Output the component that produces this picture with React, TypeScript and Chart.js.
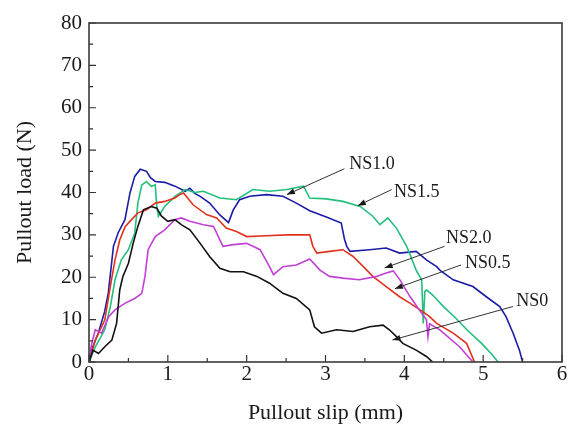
import React, { useEffect, useRef } from "react";
import { Chart, registerables } from "chart.js";

Chart.register(...registerables);

// ---------- data (slip in mm, load in N) ----------
const ns0Slip = [0, 0.01, 0.05, 0.12, 0.2, 0.29, 0.35, 0.39, 0.43, 0.5, 0.56, 0.62, 0.69, 0.79, 0.86, 0.92, 1.0, 1.09, 1.17, 1.28, 1.41, 1.53, 1.66, 1.79, 1.96, 2.13, 2.29, 2.46, 2.63, 2.8, 2.86, 2.95, 3.14, 3.35, 3.56, 3.73, 3.81, 3.9, 3.98, 4.15, 4.28, 4.36];
const ns0Load = [0, 0.5, 2.8, 2.0, 3.6, 5.2, 9.1, 17, 20.2, 23.3, 28, 32, 35.9, 36.7, 36.3, 34.4, 33.2, 33.6, 32.4, 31.2, 28, 24.9, 22.1, 21.3, 21.3, 20.2, 18.6, 16.2, 15.0, 12.3, 8.3, 6.8, 7.6, 7.2, 8.3, 8.7, 7.6, 6.0, 4.4, 2.8, 1.3, 0];

const ns05Slip = [0, 0.08, 0.2, 0.27, 0.33, 0.39, 0.46, 0.54, 0.62, 0.73, 0.84, 0.96, 1.09, 1.15, 1.2, 1.32, 1.49, 1.62, 1.74, 1.87, 2.0, 2.25, 2.51, 2.8, 2.84, 2.89, 3.05, 3.22, 3.35, 3.48, 3.6, 3.77, 3.94, 4.07, 4.2, 4.32, 4.41, 4.62, 4.79, 4.89];
const ns05Load = [0, 5.2, 9.9, 17.8, 24.1, 28.8, 32, 33.6, 35.2, 35.9, 37.5, 37.9, 38.7, 39.5, 39.9, 37.1, 34.8, 34, 31.6, 30.8, 29.6, 29.8, 30, 30, 27.3, 25.7, 26.1, 26.5, 24.9, 22.5, 20.2, 17.8, 15.4, 13.9, 12.3, 10.7, 9.1, 6.8, 4.4, 0];

const ns10Slip = [0, 0.03, 0.12, 0.2, 0.245, 0.31, 0.37, 0.456, 0.52, 0.58, 0.65, 0.73, 0.78, 0.84, 0.96, 1.09, 1.22, 1.28, 1.34, 1.41, 1.53, 1.66, 1.77, 1.83, 1.91, 2.04, 2.25, 2.46, 2.63, 2.8, 3.01, 3.2, 3.24, 3.27, 3.31, 3.56, 3.77, 3.94, 4.15, 4.28, 4.41, 4.45, 4.62, 4.87, 5.04, 5.21, 5.29, 5.38, 5.46, 5.5];
const ns10Load = [0, 2.8, 6.9, 12, 16.3, 27.3, 30.5, 33.6, 39.9, 43.8, 45.5, 45, 43.5, 42.6, 42.4, 41.5, 40.3, 41, 39.8, 39.1, 37.5, 34.7, 32.9, 35.9, 38.3, 39.1, 39.5, 39.1, 37.5, 35.7, 34.2, 32.8, 29, 27.3, 26.1, 26.5, 26.9, 25.7, 26.1, 24.1, 22.5, 21.7, 19.4, 17.8, 15.4, 13.1, 10.7, 6.8, 2.8, 0];

const ns15Slip = [0, 0.08, 0.2, 0.27, 0.33, 0.41, 0.5, 0.58, 0.62, 0.67, 0.73, 0.79, 0.84, 0.86, 0.88, 0.96, 1.09, 1.22, 1.34, 1.45, 1.66, 1.87, 2.08, 2.29, 2.51, 2.72, 2.8, 3.01, 3.22, 3.44, 3.6, 3.69, 3.79, 3.9, 4.03, 4.15, 4.22, 4.24, 4.26, 4.28, 4.36, 4.5, 4.66, 4.8, 4.98, 5.1, 5.19];
const ns15Load = [0, 3.6, 7.6, 13, 19.4, 24.1, 26.5, 30.4, 37.5, 41.8, 42.6, 41.4, 41.8, 36.7, 34.4, 36.7, 39.1, 40.7, 40, 40.3, 38.7, 38.3, 40.7, 40.3, 40.7, 41.5, 38.7, 38.5, 37.9, 36.7, 34.4, 32.4, 34, 31.6, 27.3, 21.7, 19.4, 9.1, 16.6, 17, 15.8, 13, 10.2, 7.5, 4.4, 2, 0];

const ns20Slip = [0, 0.03, 0.08, 0.16, 0.25, 0.33, 0.46, 0.58, 0.67, 0.71, 0.75, 0.84, 0.96, 1.09, 1.17, 1.28, 1.45, 1.58, 1.66, 1.7, 1.83, 2.0, 2.17, 2.29, 2.34, 2.46, 2.63, 2.8, 2.93, 3.05, 3.22, 3.43, 3.65, 3.77, 3.86, 3.94, 4.07, 4.2, 4.28, 4.3, 4.32, 4.45, 4.7, 4.87];
const ns20Load = [0, 4, 7.6, 6.8, 10.7, 12.3, 13.9, 15, 16.2, 20.2, 26.5, 29.6, 31.2, 33.6, 34, 33.2, 32.4, 32, 28.8, 27.3, 27.7, 28, 26.5, 22.5, 20.6, 22.5, 22.9, 24.3, 21.7, 20.2, 19.8, 19.4, 20.2, 21, 21.5, 19.5, 15.5, 12, 10, 6, 9, 7.6, 3.6, 0];

const seriesNames = ["NS0", "NS2.0", "NS0.5", "NS1.5", "NS1.0"];
const seriesSlips = [ns0Slip, ns20Slip, ns05Slip, ns15Slip, ns10Slip];
const seriesLoads = [ns0Load, ns20Load, ns05Load, ns15Load, ns10Load];
const seriesColors = ["#111111", "#c23fd6", "#e2321f", "#22c07c", "#1c1ca6"];

const xMajorTicks = [0, 1, 2, 3, 4, 5, 6];
const xMinorTicks = [0.5, 1.5, 2.5, 3.5, 4.5, 5.5];
const yMajorTicks = [0, 10, 20, 30, 40, 50, 60, 70, 80];
const yMinorTicks = [5, 15, 25, 35, 45, 55, 65, 75];

// annotation labels with leader arrows (in data units)
const labelTexts = ["NS1.0", "NS1.5", "NS2.0", "NS0.5", "NS0"];
const labelX = [3.3, 3.87, 4.53, 4.77, 5.42];
const labelY = [46.6, 40.0, 29.2, 23.3, 14.3];
const arrowFromX = [3.24, 3.84, 4.51, 4.72, 5.38];
const arrowFromY = [45.6, 40.7, 27.3, 22.9, 13.1];
const arrowToX = [2.51, 3.41, 3.75, 3.88, 3.85];
const arrowToY = [39.5, 36.9, 22.2, 17.3, 5.2];

const FONT = "'Liberation Serif', 'Times New Roman', Times, serif";

const decorPlugin = {
  id: "decor",
  afterDraw(chart: any) {
    const ctx = chart.ctx;
    const xs = chart.scales.x;
    const ys = chart.scales.y;
    const { left, right, top, bottom } = chart.chartArea;
    ctx.save();
    // annotations
    ctx.strokeStyle = "#333";
    ctx.fillStyle = "#1a1a1a";
    ctx.lineWidth = 1;
    for (let i = 0; i < labelTexts.length; i++) {
      const x1 = xs.getPixelForValue(arrowFromX[i]);
      const y1 = ys.getPixelForValue(arrowFromY[i]);
      const x2 = xs.getPixelForValue(arrowToX[i]);
      const y2 = ys.getPixelForValue(arrowToY[i]);
      ctx.beginPath();
      ctx.moveTo(x1, y1);
      ctx.lineTo(x2, y2);
      ctx.stroke();
      const ang = Math.atan2(y2 - y1, x2 - x1);
      const L = 8, W = 3;
      ctx.beginPath();
      ctx.moveTo(x2, y2);
      ctx.lineTo(x2 - L * Math.cos(ang) + W * Math.sin(ang), y2 - L * Math.sin(ang) - W * Math.cos(ang));
      ctx.lineTo(x2 - L * Math.cos(ang) - W * Math.sin(ang), y2 - L * Math.sin(ang) + W * Math.cos(ang));
      ctx.closePath();
      ctx.fill();
      ctx.font = `18px ${FONT}`;
      ctx.textAlign = "left";
      ctx.textBaseline = "middle";
      ctx.fillText(labelTexts[i], xs.getPixelForValue(labelX[i]), ys.getPixelForValue(labelY[i]));
    }
    // ticks (inward)
    ctx.strokeStyle = "#333";
    ctx.lineWidth = 1.2;
    ctx.beginPath();
    for (const v of xMajorTicks) {
      const p = xs.getPixelForValue(v);
      ctx.moveTo(p, bottom);
      ctx.lineTo(p, bottom - 7);
    }
    for (const v of xMinorTicks) {
      const p = xs.getPixelForValue(v);
      ctx.moveTo(p, bottom);
      ctx.lineTo(p, bottom - 4);
    }
    for (const v of yMajorTicks) {
      const p = ys.getPixelForValue(v);
      ctx.moveTo(left, p);
      ctx.lineTo(left + 7, p);
    }
    for (const v of yMinorTicks) {
      const p = ys.getPixelForValue(v);
      ctx.moveTo(left, p);
      ctx.lineTo(left + 4, p);
    }
    ctx.stroke();
    // frame
    ctx.strokeStyle = "#3a3a3a";
    ctx.lineWidth = 1.6;
    ctx.strokeRect(left, top, right - left, bottom - top);
    ctx.restore();
  },
};

export default function App() {
  const ref = useRef<HTMLCanvasElement | null>(null);
  useEffect(() => {
    document.body.style.margin = "0";
    const canvas = ref.current;
    if (!canvas) return;
    const datasets = seriesNames.map((name, i) => ({
      label: name,
      data: seriesSlips[i].map((s, j) => ({ x: s, y: seriesLoads[i][j] })),
      borderColor: seriesColors[i],
      backgroundColor: seriesColors[i],
      borderWidth: 1.6,
      pointRadius: 0,
      tension: 0,
      fill: false,
    }));
    const chart = new Chart(canvas, {
      type: "line",
      data: { datasets },
      options: {
        animation: false,
        responsive: false,
        devicePixelRatio: 1,
        layout: { padding: { top: 23, right: 10, left: 0, bottom: 0 } },
        plugins: { legend: { display: false }, tooltip: { enabled: false } },
        scales: {
          x: {
            type: "linear",
            min: 0,
            max: 6,
            afterFit: (s: any) => { s.height = 64; },
            grid: { display: false, drawTicks: false },
            border: { display: false },
            ticks: { stepSize: 1, padding: 0, color: "#1a1a1a", font: { family: FONT, size: 21 } },
            title: { display: true, text: "Pullout slip (mm)", color: "#1a1a1a", padding: { top: 0, bottom: 0 }, font: { family: FONT, size: 22 } },
          },
          y: {
            type: "linear",
            min: 0,
            max: 80,
            afterFit: (s: any) => { s.width = 89; },
            grid: { display: false, drawTicks: false },
            border: { display: false },
            ticks: { stepSize: 10, padding: 7, color: "#1a1a1a", font: { family: FONT, size: 21 } },
            title: { display: true, text: "Pullout load (N)", color: "#1a1a1a", padding: { top: 12, bottom: 0 }, font: { family: FONT, size: 22 } },
          },
        },
      },
      plugins: [decorPlugin],
    } as any);
    return () => chart.destroy();
  }, []);
  return (
    <div style={{ width: 572, height: 426 }}>
      <canvas ref={ref} width={572} height={426} style={{ display: "block" }} />
    </div>
  );
}
